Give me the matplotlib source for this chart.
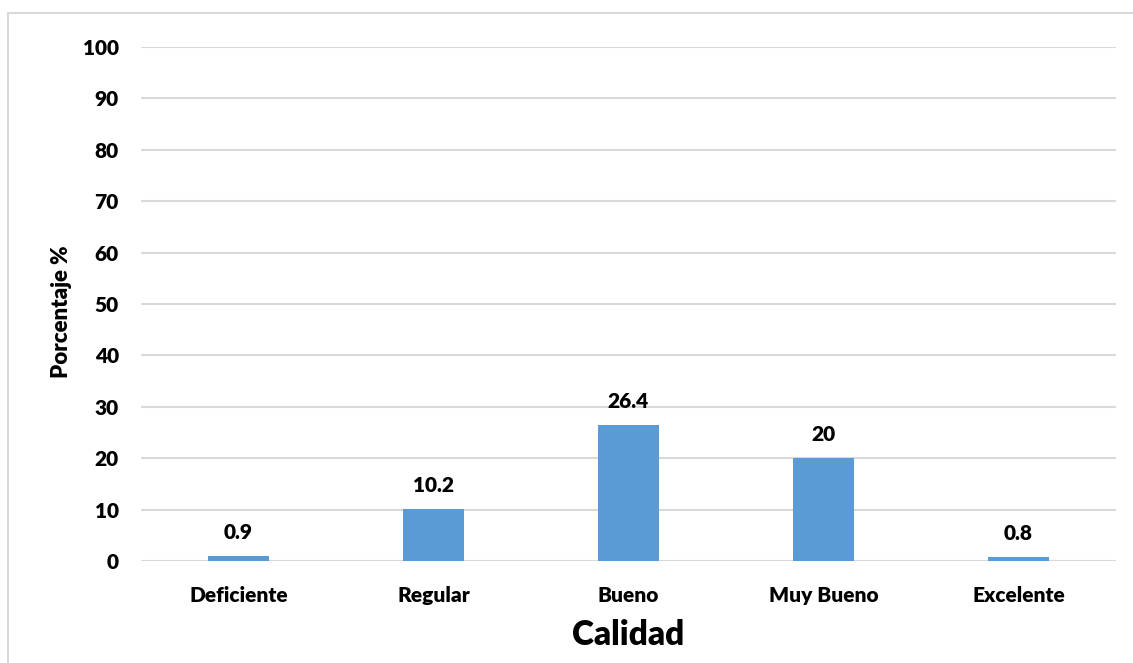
import matplotlib
matplotlib.use("Agg")
import matplotlib.pyplot as plt
from matplotlib.patches import Rectangle

categorias = ["Deficiente", "Regular", "Bueno", "Muy Bueno", "Excelente"]
porcentajes = [0.9, 10.2, 26.4, 20, 0.8]
etiquetas = ["0.9", "10.2", "26.4", "20", "0.8"]
ticks_y = list(range(0, 101, 10))

plt.rcParams["font.family"] = ["Lato", "DejaVu Sans"]
peso = "heavy"

fig = plt.figure(figsize=(11.33, 6.63), dpi=100)
ax = fig.add_axes([141 / 1133, 1 - 561 / 663, 975 / 1133, 514 / 663])

x = range(len(categorias))
bars = ax.bar(x, porcentajes, width=0.31, color="#5B9BD5", zorder=3)
for b, t in zip(bars, etiquetas):
    ax.annotate(t, (b.get_x() + b.get_width() / 2, b.get_height()),
                xytext=(0, 10), textcoords="offset points",
                ha="center", va="bottom", fontsize=15, fontweight=peso)

ax.set_xlim(-0.5, len(categorias) - 0.5)
ax.set_ylim(0, 100)
ax.set_yticks(ticks_y)
ax.set_xticks(list(x))
ax.set_xticklabels(categorias)
ax.tick_params(axis="both", length=0, labelsize=15)
ax.tick_params(axis="x", pad=18)
ax.tick_params(axis="y", pad=16)
for lbl in ax.get_xticklabels() + ax.get_yticklabels():
    lbl.set_fontweight(peso)

ax.grid(axis="y", color="#D9D9D9", linewidth=1.5, zorder=0)
for s in ax.spines.values():
    s.set_visible(False)

ax.set_ylabel("Porcentaje %", fontsize=16, fontweight=peso)
ax.yaxis.set_label_coords(-0.071, 0.486)
ax.set_xlabel("Calidad", fontsize=24, fontweight=peso, labelpad=10)

# marco exterior gris claro
fig.patches.append(Rectangle((8 / 1133, -0.1), 1.2, 1 - 13 / 663 + 0.1,
                             transform=fig.transFigure, fill=False,
                             edgecolor="#D9D9D9", linewidth=1.5))

fig.savefig("out.png", dpi=100)
